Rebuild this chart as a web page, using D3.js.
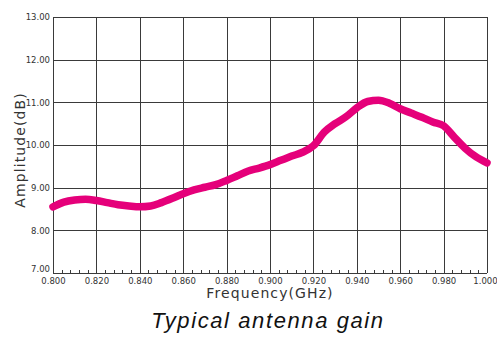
<!DOCTYPE html>
<html>
<head>
<meta charset="utf-8">
<script src="https://cdn.jsdelivr.net/npm/d3@7"></script>
<style>
  body { margin: 0; background: #fff; }
  svg { display: block; }
  .tick text { font-family: "DejaVu Sans", sans-serif; fill: #333; }
</style>
</head>
<body>
<svg id="chart" width="497" height="337"></svg>
<script>
// frequency in GHz and gain in dB
let freq = [0.800, 0.805, 0.810, 0.815, 0.820, 0.825, 0.830, 0.835, 0.840, 0.845,
            0.850, 0.855, 0.860, 0.865, 0.870, 0.875, 0.880, 0.885, 0.890, 0.895,
            0.900, 0.905, 0.910, 0.915, 0.920, 0.925, 0.930, 0.935, 0.940, 0.945,
            0.950, 0.955, 0.960, 0.965, 0.970, 0.975, 0.980, 0.985, 0.990, 0.995, 1.000];
let gain = [8.55, 8.66, 8.71, 8.73, 8.70, 8.65, 8.60, 8.57, 8.55, 8.57,
            8.65, 8.75, 8.86, 8.95, 9.01, 9.07, 9.17, 9.28, 9.39, 9.46,
            9.54, 9.64, 9.74, 9.83, 9.98, 10.30, 10.50, 10.66, 10.87, 11.02,
            11.05, 10.98, 10.85, 10.75, 10.65, 10.54, 10.45, 10.18, 9.92, 9.72, 9.58];

let xTicks = [0.80, 0.82, 0.84, 0.86, 0.88, 0.90, 0.92, 0.94, 0.96, 0.98, 1.00];
let yTicks = [7, 8, 9, 10, 11, 12, 13];

var config = {
    left: 53,
    right: 487,
    top: 17,
    bottom: 273
}

let svg = d3.select('#chart');

let x = d3.scaleLinear().domain([0.8, 1.0]).range([config.left, config.right]);
let y = d3.scaleLinear().domain([7, 13]).range([config.bottom, config.top]);

// grid lines
let grid = svg.append('g').attr('class', 'grid');
grid.selectAll('line.v')
    .data(xTicks)
    .join('line')
    .attr('class', 'v')
    .attr('x1', d => Math.round(x(d)) + 0.5)
    .attr('x2', d => Math.round(x(d)) + 0.5)
    .attr('y1', config.top)
    .attr('y2', config.bottom)
    .attr('stroke', '#3a3a3a')
    .attr('stroke-width', 1);
grid.selectAll('line.h')
    .data(yTicks)
    .join('line')
    .attr('class', 'h')
    .attr('x1', config.left)
    .attr('x2', config.right)
    .attr('y1', d => Math.round(y(d)) + 0.5)
    .attr('y2', d => Math.round(y(d)) + 0.5)
    .attr('stroke', '#3a3a3a')
    .attr('stroke-width', 1);

// minor ticks on bottom axis, pointing up
let minor = d3.range(0, 51).map(i => 0.8 + i * 0.004);
svg.append('g')
    .selectAll('line')
    .data(minor)
    .join('line')
    .attr('x1', d => Math.round(x(d)) + 0.5)
    .attr('x2', d => Math.round(x(d)) + 0.5)
    .attr('y1', config.bottom)
    .attr('y2', config.bottom - 3)
    .attr('stroke', '#3a3a3a');

// axes (labels only)
let xAxis = d3.axisBottom(x).tickValues(xTicks).tickFormat(d3.format('.3f')).tickSize(0).tickPadding(5);
let gx = svg.append('g')
    .attr('transform', 'translate(0,' + config.bottom + ')')
    .call(xAxis);
gx.select('.domain').remove();
gx.selectAll('text').attr('font-size', 8.5);
// keep the last label inside the window
gx.selectAll('.tick').filter(d => d == 1).select('text').attr('dx', '-2');

let yAxis = d3.axisLeft(y).tickValues(yTicks).tickFormat(d3.format('.2f')).tickSize(0).tickPadding(3);
let gy = svg.append('g')
    .attr('transform', 'translate(' + config.left + ',0)')
    .call(yAxis);
gy.select('.domain').remove();
gy.selectAll('text').attr('font-size', 8.5);
// lift the bottom label a little so it clears 0.800
gy.selectAll('.tick').filter(d => d == 7).select('text').attr('dy', '-0.2em');

// curve
let line = d3.line()
    .curve(d3.curveMonotoneX)
    .x((d, i) => x(freq[i]))
    .y(d => y(d));
svg.append('path')
    .datum(gain)
    .attr('d', line)
    .attr('fill', 'none')
    .attr('stroke', '#e5007a')
    .attr('stroke-width', 7.5)
    .attr('stroke-linecap', 'round')
    .attr('stroke-linejoin', 'round');

// titles
svg.append('text')
    .attr('x', 270)
    .attr('y', 298)
    .attr('text-anchor', 'middle')
    .attr('font-family', '"DejaVu Sans", sans-serif')
    .attr('font-size', 14)
    .attr('letter-spacing', 1.1)
    .attr('fill', '#333')
    .text('Frequency(GHz)');

svg.append('text')
    .attr('transform', 'translate(25,150) rotate(-90)')
    .attr('text-anchor', 'middle')
    .attr('font-family', '"DejaVu Sans", sans-serif')
    .attr('font-size', 14)
    .attr('letter-spacing', 1.1)
    .attr('fill', '#333')
    .text('Amplitude(dB)');

svg.append('text')
    .attr('x', 268)
    .attr('y', 328)
    .attr('text-anchor', 'middle')
    .attr('font-family', '"Liberation Sans", Arial, sans-serif')
    .attr('font-style', 'italic')
    .attr('font-size', 22)
    .attr('letter-spacing', 1.6)
    .attr('fill', '#111')
    .text('Typical antenna gain');
</script>
</body>
</html>
